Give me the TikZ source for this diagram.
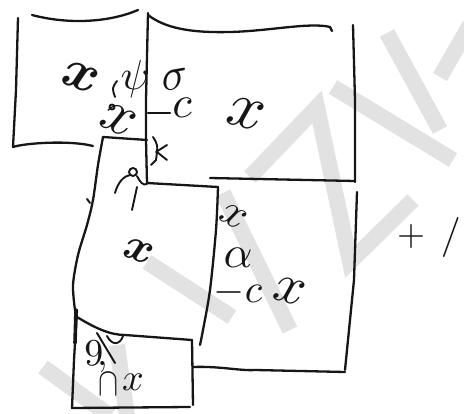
\documentclass[tikz,border=0pt]{standalone}
\usetikzlibrary{positioning}
\definecolor{Ink}{RGB}{22,22,22}
\definecolor{Mark}{RGB}{226,226,226}
\tikzset{
  pen/.style={draw=Ink,line width=2.3pt,line cap=round,line join=round},
  fine/.style={pen,line width=1.9pt},
  heavy/.style={pen,line width=3.6pt},
  wm/.style={draw=Mark,line width=16pt},
  scrawl/.style={text=Ink,inner sep=0pt,scale=#1},
  scrawl/.default=4.5,
  boldscrawl/.style={scrawl=#1,font=\boldmath},
  boldscrawl/.default=5
}
\begin{document}
\begin{tikzpicture}[x=1pt,y=-1pt]
  \useasboundingbox (0,0) rectangle (464,414);
  % watermark
  \draw[wm] (223,193) -- (290,330);
  \draw[wm] (147,262) -- (232,317);
  \draw[wm] (250,177) -- (317,107) -- (350,262) -- (413,200);
  \draw[wm] (333,87) -- (453,160);
  \draw[wm] (387,33) -- (440,130);
  \draw[wm] (440,77) -- (470,25);
  \draw[wm] (43,367) -- (110,416);
  \draw[wm] (117,345) -- (127,416);
  % top left box
  \draw[pen] (32,15) .. controls (70,25) and (110,22) .. (138,10);
  \draw[pen] (18,18) -- (16,90) -- (13,147);
  \draw[pen] (13,147) .. controls (25,143) and (70,140) .. (93,146);
  \draw[pen] (148,13) -- (146,100) -- (146,140) -- (147,183) -- (218,187);
  % top middle box
  \draw[pen] (148,15) .. controls (165,28) and (190,33) .. (230,32) .. controls (270,31) and (310,22) .. (330,27) -- (332,31);
  \draw[pen] (353,25) -- (355,100) -- (355,182);
  \draw[pen] (210,178) -- (355,181);
  % middle box
  \draw[pen] (103,137) -- (147,140);
  \draw[pen] plot[smooth] coordinates {(103,137) (98,165) (93,200) (87,225) (78,255) (73,285) (75,310)};
  \draw[pen] plot[smooth] coordinates {(218,187) (216,230) (210,290) (203,330) (200,345)};
  \draw[pen] (77,317) .. controls (95,328) and (110,335) .. (125,335) -- (192,340);
  % bottom box
  \draw[pen] (77,310) -- (74,360) -- (72,408) -- (190,407);
  \draw[pen] (192,340) -- (193,405);
  \draw[heavy] (76,310) -- (75,343);
  % right box
  \draw[pen] (357,192) -- (354,280) -- (345,370);
  \draw[pen] (193,367) .. controls (220,366) and (240,371) .. (255,370) -- (345,372);
  % marks
  \node[boldscrawl=5.5,rotate=-20] (tlx) at (81,77) {$x$};
  \node[scrawl=4.2] (psi) at (135,79) {$\psi$};
  \node[scrawl,rotate=10] (sigma) at (175,80) {$\sigma$};
  \node[scrawl] (cone) at (182,108) {$c$};
  \node[scrawl=6,rotate=-25] (cross) at (118,120) {$x$};
  \node[scrawl=6.5,rotate=-15] (tmx) at (246,114) {$x$};
  \node[boldscrawl=4.5,rotate=-20] (mx) at (139,251) {$x$};
  \node[scrawl,rotate=-30] (rx) at (233,217) {$x$};
  \node[scrawl] (ralpha) at (238,258) {$\alpha$};
  \node[scrawl=4] (rminc) at (238,293) {${-}c$};
  \node[scrawl=5.5,rotate=-15] (rxx) at (290,291) {$x$};
  \node[scrawl=3.6] (plus) at (411,237) {$+$};
  \node[scrawl=4,anchor=west] (slash) at (440,238) {$/($};
  \node[scrawl=3.8] (nine) at (96,357) {$9\!,$};
  \node[scrawl=4,xscale=0.75] (bcap) at (108,384) {$\cap$};
  \node[scrawl=3.8] (bx) at (133,382) {$x$};
  \draw[fine] (117,81) .. controls (112,88) .. (115,97);
  \draw[fine] (112,107) circle (2.5);
  \draw[pen] (148,113) -- (170,113);
  \draw[fine] (153,137) .. controls (158,145) .. (156,160) -- (151,165);
  \draw[fine] (156,152) -- (167,145);
  \draw[fine] (157,152) -- (167,160);
  \draw[fine] (115,193) .. controls (118,182) and (124,176) .. (130,175);
  \draw[fine] (133,172) circle (4);
  \draw[fine] (137,176) .. controls (140,182) and (143,186) .. (147,184);
  \draw[fine] (137,187) -- (132,210);
  \draw[fine] (87,199) -- (90,203);
  \draw[fine] (97,333) -- (115,363);
  \draw[fine] (107,336) .. controls (112,346) and (120,345) .. (123,336);
\end{tikzpicture}
\end{document}
